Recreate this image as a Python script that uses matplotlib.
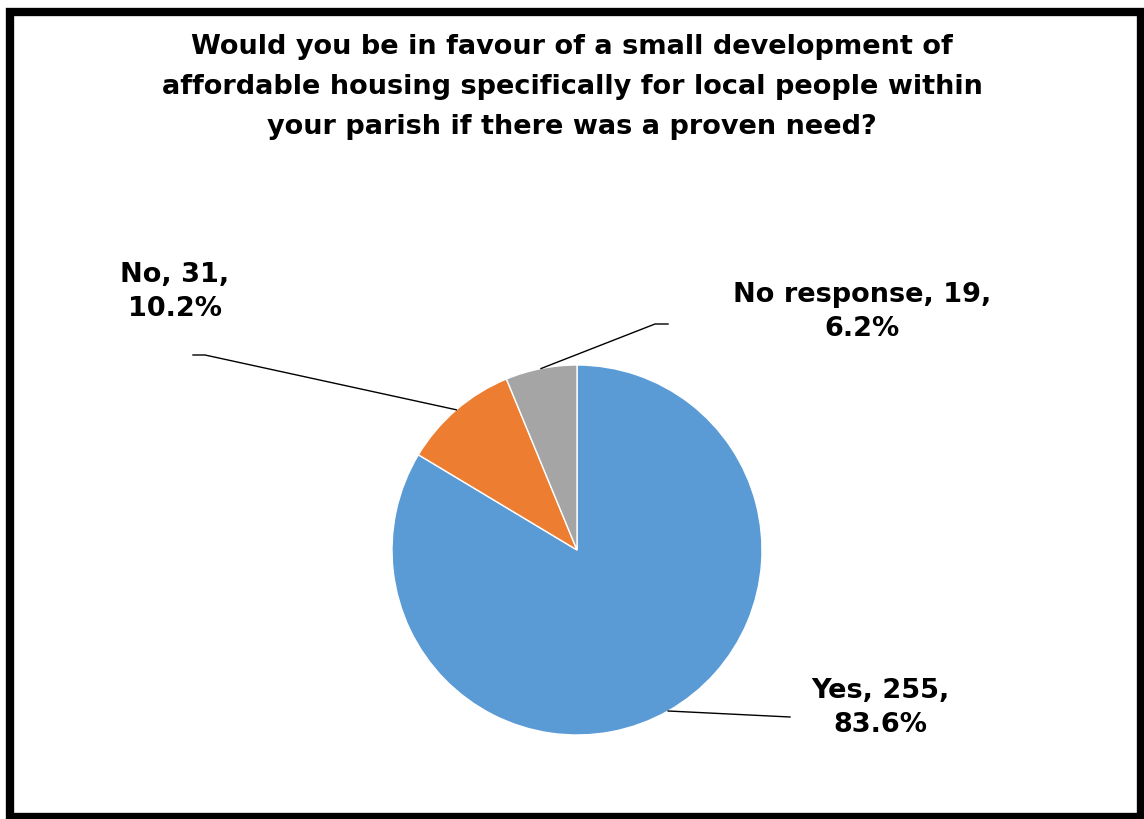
import numpy as np
import matplotlib.pyplot as plt
from matplotlib.patches import Rectangle

categories = ['Yes', 'No', 'No response']
counts = [255, 31, 19]
colors = ['#5B9BD5', '#ED7D31', '#A5A5A5']
title = ('Would you be in favour of a small development of\n'
         'affordable housing specifically for local people within\n'
         'your parish if there was a proven need?')

W, H = 1144, 819
fig = plt.figure(figsize=(W / 100, H / 100), dpi=100)
ax = fig.add_axes([0, 0, 1, 1])
ax.set_xlim(0, W)
ax.set_ylim(0, H)
ax.set_aspect('equal')
ax.axis('off')

# outer frame
fig.patches.append(Rectangle((10 / W, 2 / H), (W - 13) / W, (H - 14) / H,
                             transform=fig.transFigure, fill=False,
                             edgecolor='black', linewidth=6))

cx, cy, r = 577, H - 550, 185
wedges, _ = ax.pie(counts, colors=colors, startangle=90, counterclock=False,
                   center=(cx, cy), radius=r,
                   wedgeprops=dict(edgecolor='white', linewidth=1))
ax.set_xlim(0, W)
ax.set_ylim(0, H)

font = dict(family='DejaVu Sans', weight='bold', color='black')
ax.text(572, H - 87, title, ha='center', va='center', fontsize=19.5,
        linespacing=1.68, **font)

total = sum(counts)
# label anchor (text centre), elbow of leader, end of short horizontal
label_pos = [(880, H - 708), (175, H - 292), (862, H - 312)]
elbows = [(790, H - 717), (205, H - 355), (655, H - 324)]
tails = [(790, H - 717), (193, H - 355), (668, H - 324)]

for w, name, v, (lx, ly), (ex, ey), (tx, ty) in zip(
        wedges, categories, counts, label_pos, elbows, tails):
    mid = np.deg2rad((w.theta1 + w.theta2) / 2)
    px, py = cx + r * np.cos(mid), cy + r * np.sin(mid)
    ax.plot([px, ex, tx], [py, ey, ty], color='black', linewidth=1)
    ax.text(lx, ly, f'{name}, {v},\n{100 * v / total:.1f}%', ha='center',
            va='center', fontsize=19.5, linespacing=1.4, **font)

fig.savefig('out.png', dpi=100)
